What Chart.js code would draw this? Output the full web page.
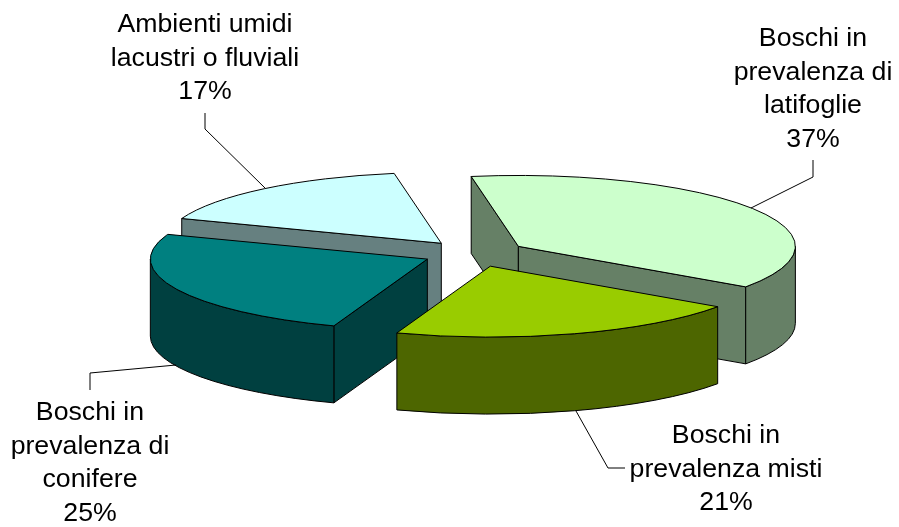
<!DOCTYPE html>
<html>
<head>
<meta charset="utf-8">
<style>
    body { margin: 0; background: #fff; }
    canvas { display: block; }
</style>
<script src="https://cdn.jsdelivr.net/npm/chart.js@4"></script>
</head>
<body>
<canvas id="chart" width="899" height="527"></canvas>
<script>
// Dati
const categories = [
    ["Boschi in", "prevalenza di", "latifoglie"],
    ["Boschi in", "prevalenza misti"],
    ["Boschi in", "prevalenza di", "conifere"],
    ["Ambienti umidi", "lacustri o fluviali"]
];
const values = [37.4, 20.8, 25.2, 16.6];
const topColors = ["#CCFFCC", "#99CC00", "#008080", "#CCFFFF"];
const sideColors = ["#668066", "#4D6600", "#004040", "#668080"];

// Aspetto della torta 3D
const SQUASH = 0.256;
const DEPTH = 77;
const EXPLODE = 52;
const drawOrder = [3, 0, 2, 1]; // dal fondo verso il davanti

// Etichette: centro del testo, prima riga, linea guida
const labelBoxes = [
    { x: 813, y: 39, leader: [[813, 160], [813, 177], [751, 208]] },
    { x: 726, y: 436, leader: [[576, 411], [608, 468], [625, 468]] },
    { x: 90, y: 413, leader: [[90, 390], [90, 373], [176, 365]] },
    { x: 205, y: 25, leader: [[205, 113], [205, 129], [265, 188]] }
];
const LINE_HEIGHT = 33.4;

const pie3d = {
    id: "pie3d",
    beforeDatasetsDraw(chart) {
        const ctx = chart.ctx;
        const arcs = chart.getDatasetMeta(0).data;

        drawOrder.forEach(i => {
            const arc = arcs[i];
            const { x, y, startAngle, endAngle, outerRadius: r } = arc;
            const mid = (startAngle + endAngle) / 2;
            const ox = Math.cos(mid) * EXPLODE;
            const oy = Math.sin(mid) * EXPLODE * SQUASH;
            const px = a => x + ox + Math.cos(a) * r;
            const py = a => y + oy + Math.sin(a) * r * SQUASH;
            const cx = x + ox;
            const cy = y + oy;

            ctx.save();
            ctx.lineWidth = 1;
            ctx.strokeStyle = "#000";
            ctx.lineJoin = "round";
            ctx.fillStyle = sideColors[i];

            // facce radiali visibili
            [[startAngle, Math.cos(startAngle) < 0], [endAngle, Math.cos(endAngle) > 0]].forEach(([a, visible]) => {
                if (!visible) return;
                ctx.beginPath();
                ctx.moveTo(cx, cy);
                ctx.lineTo(px(a), py(a));
                ctx.lineTo(px(a), py(a) + DEPTH);
                ctx.lineTo(cx, cy + DEPTH);
                ctx.closePath();
                ctx.fill();
                ctx.stroke();
            });

            // parete esterna, solo la metà davanti
            const from = Math.max(startAngle, 0);
            const to = Math.min(endAngle, Math.PI);
            if (to > from) {
                ctx.beginPath();
                ctx.ellipse(cx, cy, r, r * SQUASH, 0, from, to);
                ctx.lineTo(px(to), py(to) + DEPTH);
                ctx.ellipse(cx, cy + DEPTH, r, r * SQUASH, 0, to, from, true);
                ctx.closePath();
                ctx.fill();
                ctx.stroke();
            }

            // faccia superiore: la disegna l'arco di Chart.js, schiacciato
            ctx.save();
            ctx.translate(cx, cy);
            ctx.scale(1, SQUASH);
            ctx.translate(-x, -y);
            arc.draw(ctx);
            ctx.restore();

            ctx.beginPath();
            ctx.moveTo(cx, cy);
            ctx.ellipse(cx, cy, r, r * SQUASH, 0, startAngle, endAngle);
            ctx.closePath();
            ctx.stroke();
            ctx.restore();
        });

        return false; // il disegno normale non serve
    },
    afterDraw(chart) {
        const ctx = chart.ctx;
        ctx.save();
        ctx.strokeStyle = "#000";
        ctx.lineWidth = 1;
        ctx.fillStyle = "#000";
        ctx.font = '26.7px "Liberation Sans"';
        ctx.textAlign = "center";
        ctx.textBaseline = "middle";

        labelBoxes.forEach((box, i) => {
            ctx.beginPath();
            box.leader.forEach(([lx, ly], k) => {
                if (k === 0) ctx.moveTo(lx, ly);
                else ctx.lineTo(lx, ly);
            });
            ctx.stroke();

            const lines = categories[i].concat(Math.round(values[i]) + "%");
            lines.forEach((line, k) => {
                ctx.fillText(line, box.x, box.y + k * LINE_HEIGHT);
            });
        });
        ctx.restore();
    }
};

new Chart(document.getElementById("chart"), {
    type: "pie",
    data: {
        labels: categories.map(c => c.join(" ")),
        datasets: [{
            data: values,
            backgroundColor: topColors,
            borderWidth: 0,
            radius: 277
        }]
    },
    options: {
        responsive: false,
        animation: false,
        rotation: -9.8,
        layout: { padding: { left: 50, bottom: 20 } },
        plugins: {
            legend: { display: false },
            tooltip: { enabled: false }
        }
    },
    plugins: [pie3d]
});
</script>
</body>
</html>
